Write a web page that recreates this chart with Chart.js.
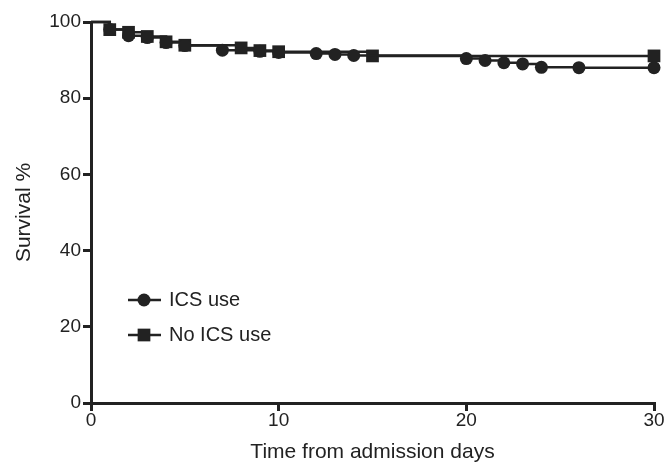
<!DOCTYPE html>
<html>
<head>
<meta charset="utf-8">
<script src="https://cdn.jsdelivr.net/npm/chart.js@4/dist/chart.umd.min.js"></script>
<style>
  html, body { margin: 0; padding: 0; background: #fff; }
  #wrap { width: 668px; height: 465px; }
</style>
</head>
<body>
<div id="wrap"><canvas id="chart" width="668" height="465"></canvas></div>
<script>
// Kaplan-Meier style survival
const icsDays = [0, 1, 2, 3, 4, 5, 7, 9, 10, 12, 13, 14, 20, 21, 22, 23, 24, 26, 30];
const icsVals = [100, 98, 96.4, 95.9, 94.6, 93.8, 92.6, 92.3, 92, 91.7, 91.5, 91.2, 90.4, 89.9, 89.3, 89, 88.1, 88, 88];
const noIcsDays = [0, 1, 2, 3, 4, 5, 8, 9, 10, 15, 30];
const noIcsVals = [100, 98, 97.3, 96.2, 94.8, 93.9, 93.2, 92.5, 92.2, 91.1, 91.1];
const xTicks = [0, 10, 20, 30];
const yTicks = [0, 20, 40, 60, 80, 100];
const seriesNames = ['ICS use', 'No ICS use'];

const ink = '#222';
const family = '"Liberation Sans", Arial, sans-serif';
const tickFont = { family: family, size: 19 };
const titleFont = { family: family, size: 21 };

const toPoints = (xs, ys) => xs.map((x, i) => ({ x: x, y: ys[i] }));

// legend drawn inside the plot, bottom left like the original
const insideLegend = {
  id: 'insideLegend',
  afterDatasetsDraw(chart) {
    const ctx = chart.ctx;
    const rows = [
      { y: 300, style: 'circle', r: 6.5 },
      { y: 335, style: 'rect', r: 9 }
    ];
    ctx.save();
    rows.forEach((row, i) => {
      ctx.strokeStyle = ink;
      ctx.lineWidth = 2.5;
      ctx.beginPath();
      ctx.moveTo(128, row.y);
      ctx.lineTo(161, row.y);
      ctx.stroke();
      ctx.fillStyle = ink;
      Chart.helpers.drawPoint(ctx, { pointStyle: row.style, radius: row.r, borderWidth: 0 }, 144, row.y);
      ctx.fillStyle = ink;
      ctx.font = '20px ' + family;
      ctx.textBaseline = 'middle';
      ctx.fillText(seriesNames[i], 169, row.y);
    });
    ctx.restore();
  }
};

new Chart(document.getElementById('chart'), {
  type: 'line',
  data: {
    datasets: [
      {
        label: seriesNames[0],
        data: toPoints(icsDays, icsVals),
        stepped: 'before',
        borderColor: ink,
        borderWidth: 2.5,
        backgroundColor: ink,
        pointStyle: 'circle',
        pointRadius: c => c.dataIndex === 0 ? 0 : 6.5,
        pointBorderWidth: 0,
        clip: false
      },
      {
        label: seriesNames[1],
        data: toPoints(noIcsDays, noIcsVals),
        stepped: 'before',
        borderColor: ink,
        borderWidth: 2.5,
        backgroundColor: ink,
        pointStyle: 'rect',
        pointRadius: c => c.dataIndex === 0 ? 0 : 9,
        pointBorderWidth: 0,
        clip: false
      }
    ]
  },
  options: {
    responsive: false,
    animation: false,
    layout: { padding: { top: 22, right: 14, left: 0, bottom: 0 } },
    plugins: { legend: { display: false }, tooltip: { enabled: false } },
    scales: {
      x: {
        type: 'linear',
        min: 0,
        max: 30,
        afterFit: s => { s.height = 62; },
        afterBuildTicks: s => { s.ticks = xTicks.map(v => ({ value: v })); },
        grid: { drawOnChartArea: false, drawTicks: true, tickLength: 8, color: ink, lineWidth: 3 },
        border: { color: ink, width: 3 },
        ticks: { color: ink, font: tickFont, padding: -2, maxRotation: 0 },
        title: { display: true, text: 'Time from admission days', color: ink, font: titleFont, padding: { top: 0, bottom: 0 } }
      },
      y: {
        min: 0,
        max: 100,
        afterFit: s => { s.width = 91; },
        afterBuildTicks: s => { s.ticks = yTicks.map(v => ({ value: v })); },
        grid: { drawOnChartArea: false, drawTicks: true, tickLength: 8, color: ink, lineWidth: 3 },
        border: { color: ink, width: 3 },
        ticks: { color: ink, font: tickFont, padding: 2 },
        title: { display: true, text: 'Survival %', color: ink, font: titleFont, padding: { top: 12, bottom: 0 } }
      }
    }
  },
  plugins: [insideLegend]
});
</script>
</body>
</html>
